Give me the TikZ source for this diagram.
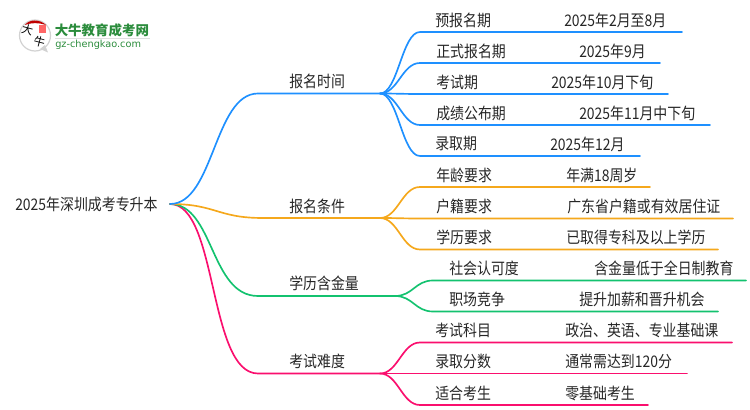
\documentclass[tikz,border=0pt]{standalone}
\usepackage{fontspec}
\setmainfont[FakeStretch=0.87]{Noto Sans CJK SC}
\newfontfamily\logofont{DejaVu Sans}
\newfontfamily\logocjk{Noto Sans CJK SC}
\definecolor{cblue}{HTML}{1E90FF}
\definecolor{corange}{HTML}{F5A81C}
\definecolor{cgreen}{HTML}{13C26F}
\definecolor{cpink}{HTML}{FA0F6E}
\definecolor{ctext}{HTML}{262626}
\definecolor{logogreen}{HTML}{2B8C3C}
\tikzset{
  lbl/.style={anchor=west,inner sep=0pt,text=ctext,font=\fontsize{12pt}{14pt}\selectfont},
  link/.style={line width=1.25pt,line cap=round},
  logochar/.style={inner sep=0pt,font=\logocjk\fontsize{8.5pt}{9pt}\selectfont,text=black,rotate=-15},
}
\newcommand{\leafstart}{420}
% name, colour, hub, y, end x, label, label x, value x, value
\newcommand{\leafrow}[9]{
  \coordinate (#1s) at (\leafstart,#4);
  \coordinate (#1e) at (#5,#4);
  \node[lbl] (#1l) at (#7,#4-12) {#6};
  \node[lbl] (#1v) at (#8,#4-12) {#9};
  \draw[link,#2] (#3) .. controls +(18,0) and +(-18,0) .. (#1s) -- (#1e);
}
\begin{document}
\begin{tikzpicture}[x=0.75pt,y=-0.75pt]
\useasboundingbox (0,0) rectangle (750,410);
% logo
\draw[gray!35,line width=0.9pt,fill=white] (35,35.5) circle (15.5);
\fill[gray!35] (40,49) -- (48,52.5) -- (45,45) -- cycle;
\fill[red!75!black] (25,25) .. controls (29,19) and (40,19) .. (46,25) .. controls (39,22.5) and (31,22.5) .. (25,25) -- cycle;
\fill[red!60!white] (39,25) rectangle (46,33);
\node[logochar] (logoa) at (27.5,30) {大};
\node[logochar] (logob) at (39.5,42) {牛};
\node[anchor=west,inner sep=0pt,text=logogreen,font=\logocjk\fontsize{10.1pt}{11pt}\selectfont\bfseries] (logot) at (54.5,30) {大牛教育成考网};
\fill[gray!25] (55,38) rectangle (150,39.2);
\node[anchor=west,inner sep=0pt,text=logogreen,font=\logofont\fontsize{7.3pt}{8pt}\selectfont] (logou) at (55,45) {gz-chengkao.com};
% root
\node[lbl] (root) at (15,204) {2025年深圳成考专升本};
\coordinate (r) at (170,204);
% branches
\coordinate (h1s) at (258,93.5);  \coordinate (h1) at (380,93.5);
\coordinate (h2s) at (263,218);   \coordinate (h2) at (380,218);
\coordinate (h3s) at (258,296);   \coordinate (h3) at (395,296);
\coordinate (h4s) at (258,373.5); \coordinate (h4) at (380,373.5);
\node[lbl] (b1) at (289,81) {报名时间};
\node[lbl] (b2) at (289,206) {报名条件};
\node[lbl] (b3) at (289,283) {学历含金量};
\node[lbl] (b4) at (289,361) {考试难度};
\draw[link,cpink] (r) .. controls +(48,0) and +(-50,0) .. (h4s) -- (h4);
\draw[link,cgreen] (r) .. controls +(44,0) and +(-48,0) .. (h3s) -- (h3);
\draw[link,corange] (r) .. controls +(46,0) and +(-46,0) .. (h2s) -- (h2);
\draw[link,cblue] (r) .. controls +(44,0) and +(-44,0) .. (h1s) -- (h1);
% leaves
\leafrow{a}{cblue}{h1}{32}{682}{预报名期}{435}{564}{2025年2月至8月}
\leafrow{b}{cblue}{h1}{63}{660}{正式报名期}{436}{579}{2025年9月}
\leafrow{c}{cblue}{h1}{94}{668}{考试期}{436}{551}{2025年10月下旬}
\leafrow{d}{cblue}{h1}{125}{710}{成绩公布期}{436}{579}{2025年11月中下旬}
\leafrow{e}{cblue}{h1}{156}{640}{录取期}{435}{550}{2025年12月}
\leafrow{f}{corange}{h2}{187}{650}{年龄要求}{436}{566}{年满18周岁}
\leafrow{g}{corange}{h2}{218.5}{733}{户籍要求}{436}{567}{广东省户籍或有效居住证}
\leafrow{h}{corange}{h2}{249.5}{718}{学历要求}{436}{566}{已取得专科及以上学历}
\renewcommand{\leafstart}{433}
\leafrow{i}{cgreen}{h3}{280.5}{746}{社会认可度}{449}{594}{含金量低于全日制教育}
\leafrow{j}{cgreen}{h3}{311.5}{718}{职场竞争}{449}{579}{提升加薪和晋升机会}
\renewcommand{\leafstart}{420}
\leafrow{k}{cpink}{h4}{342.5}{732}{考试科目}{435}{565}{政治、英语、专业基础课}
\leafrow{l}{cpink}{h4}{373.5}{687}{录取分数}{435}{565}{通常需达到120分}
\leafrow{m}{cpink}{h4}{405}{648}{适合考生}{435}{565}{零基础考生}
\end{tikzpicture}
\end{document}
